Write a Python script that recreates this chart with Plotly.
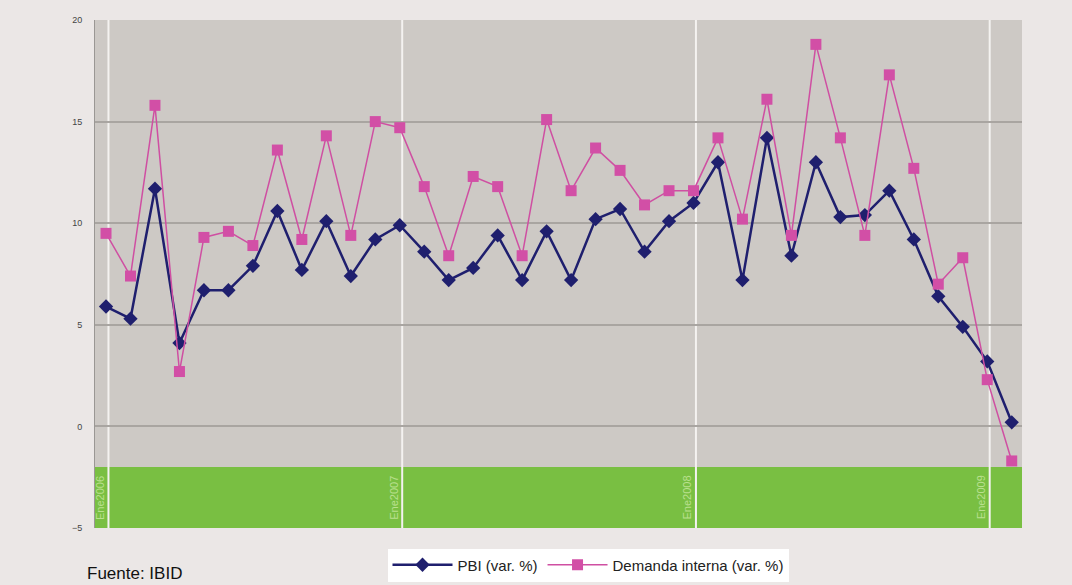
import plotly.graph_objects as go

months = ["Ene2006","Feb2006","Mar2006","Abr2006","May2006","Jun2006","Jul2006","Ago2006","Sep2006","Oct2006","Nov2006","Dic2006",
          "Ene2007","Feb2007","Mar2007","Abr2007","May2007","Jun2007","Jul2007","Ago2007","Sep2007","Oct2007","Nov2007","Dic2007",
          "Ene2008","Feb2008","Mar2008","Abr2008","May2008","Jun2008","Jul2008","Ago2008","Sep2008","Oct2008","Nov2008","Dic2008",
          "Ene2009","Feb2009"]
pbi = [5.9, 5.3, 11.7, 4.1, 6.7, 6.7, 7.9, 10.6, 7.7, 10.1, 7.4, 9.2,
       9.9, 8.6, 7.2, 7.8, 9.4, 7.2, 9.6, 7.2, 10.2, 10.7, 8.6, 10.1,
       11.0, 13.0, 7.2, 14.2, 8.4, 13.0, 10.3, 10.4, 11.6, 9.2, 6.4, 4.9,
       3.2, 0.2]
demanda = [9.5, 7.4, 15.8, 2.7, 9.3, 9.6, 8.9, 13.6, 9.2, 14.3, 9.4, 15.0,
           14.7, 11.8, 8.4, 12.3, 11.8, 8.4, 15.1, 11.6, 13.7, 12.6, 10.9, 11.6,
           11.6, 14.2, 10.2, 16.1, 9.4, 18.8, 14.2, 9.4, 17.3, 12.7, 7.0, 8.3,
           2.3, -1.7]
year_labels = ["Ene2006", "Ene2007", "Ene2008", "Ene2009"]
y_ticks = [-5, 0, 5, 10, 15, 20]

plot_left, plot_right, plot_top, plot_bottom = 95, 1022, 20, 528
W, H = 1072, 585
pw, ph = plot_right - plot_left, plot_bottom - plot_top

fig = go.Figure()
fig.add_trace(go.Scatter(
    x=months, y=pbi, name="PBI (var. %)", mode="lines+markers",
    line=dict(color="#1f1f6e", width=2.5),
    marker=dict(symbol="diamond", size=11, color="#1f1f6e"),
))
fig.add_trace(go.Scatter(
    x=months, y=demanda, name="Demanda interna (var. %)", mode="lines+markers",
    line=dict(color="#cf4fa2", width=1.5),
    marker=dict(symbol="square", size=11, color="#d24fa6"),
))

shapes = [dict(type="rect", xref="paper", yref="y", x0=0, x1=1, y0=-5, y1=-2,
               fillcolor="#79bf42", line=dict(width=0), layer="between")]
annotations = []
for lab in year_labels:
    idx = months.index(lab)
    shapes.append(dict(type="line", xref="x", yref="paper", x0=idx + 0.1, x1=idx + 0.1,
                       y0=0, y1=1, line=dict(color="#f4f2f0", width=2), layer="between"))
    annotations.append(dict(x=idx + 0.1, y=-3.5, xref="x", yref="y", text=lab, textangle=-90,
                            showarrow=False, xanchor="right", xshift=-1,
                            font=dict(family="Arial", size=11, color="#b9e08f")))

annotations.append(dict(x=(85 - plot_left) / pw, y=(plot_bottom - 585) / ph,
                        xref="paper", yref="paper", text="Fuente: IBID",
                        showarrow=False, xanchor="left", yanchor="bottom",
                        font=dict(family="Arial", size=17, color="#111111")))

fig.update_layout(
    width=W, height=H,
    margin=dict(l=plot_left, r=W - plot_right, t=plot_top, b=H - plot_bottom, autoexpand=False),
    paper_bgcolor="#ebe7e6",
    plot_bgcolor="#cdc9c5",
    showlegend=True,
    legend=dict(orientation="h", xref="container", yref="container",
                x=588 / W, y=1 - 565 / H,
                xanchor="center", yanchor="middle", bgcolor="#ffffff",
                font=dict(family="Arial", size=15, color="#222222"),
                itemwidth=60, tracegroupgap=0),
    shapes=shapes,
    annotations=annotations,
    xaxis=dict(type="category", range=[-0.45, 37.42], showgrid=False, showticklabels=False,
               zeroline=False, showline=False, ticks=""),
    yaxis=dict(range=[-5, 20], tickvals=y_ticks, showgrid=True, gridcolor="#a9a5a1", gridwidth=1.5,
               zeroline=False, showline=True, linecolor="#9a9794", linewidth=1,
               tickfont=dict(family="Arial Black, Arial", size=9, color="#444444"),
               ticklabelstandoff=10),
)

fig.write_html("out.html", config={"displayModeBar": False},
               post_script="document.body.style.margin='0';document.body.style.background='#ebe7e6';")
